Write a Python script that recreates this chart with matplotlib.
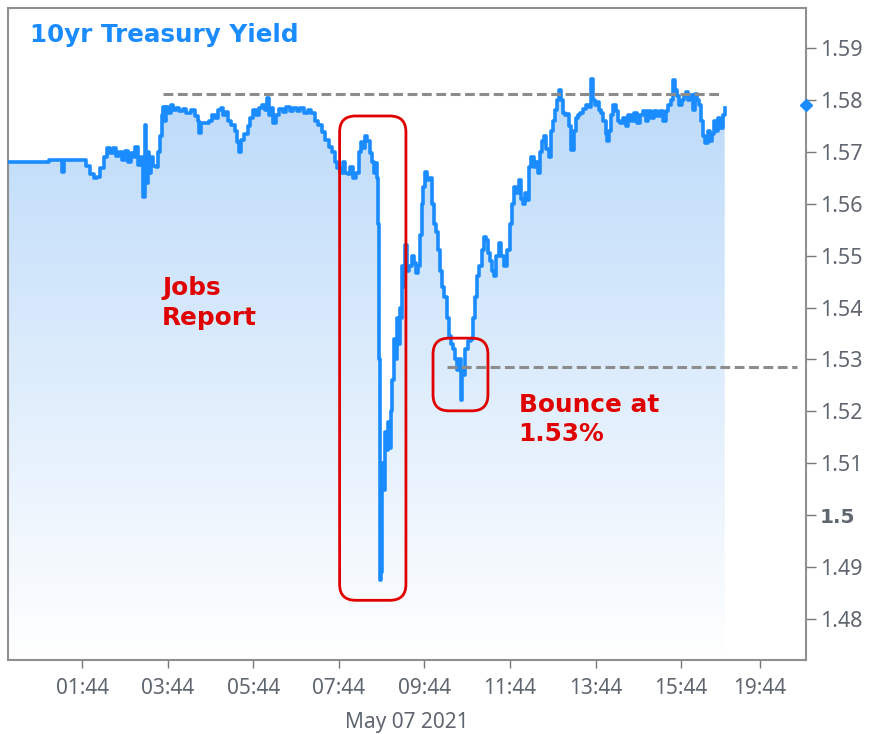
import numpy as np
import matplotlib
matplotlib.use("Agg")
import matplotlib.pyplot as plt
import matplotlib.patches as patches
import matplotlib.transforms as mtransforms
from matplotlib.colors import to_rgb

plt.rcParams['font.family'] = ['Noto Sans', 'DejaVu Sans']

# minutes after midnight (index-like time axis), yield in %
minutes = [0, 56, 57, 75, 76, 79, 105, 110, 115, 120, 125, 129, 134, 139, 143, 147, 152, 156, 160, 164,
           168, 172, 176, 178, 182, 186, 189, 190, 192, 194, 196, 198, 200, 204, 208, 211, 213, 216, 218, 220,
           222, 225, 228, 232, 236, 240, 246, 250, 256, 262, 266, 268, 270, 276, 282, 286, 290, 294, 298, 301,
           305, 309, 313, 318, 321, 324, 327, 331, 336, 340, 344, 348, 352, 356, 360, 363, 366, 369, 372, 376,
           380, 385, 390, 395, 400, 405, 410, 415, 420, 425, 430, 435, 440, 445, 450, 454, 458, 462, 466, 470,
           473, 477, 480, 484, 488, 492, 495, 498, 501, 504, 507, 510, 513, 516, 518, 519, 520, 521, 523, 524,
           526, 528, 530, 533, 535, 537, 539, 541, 543, 545, 547, 549, 551, 553, 555, 557, 560, 563, 566, 569,
           572, 575, 578, 580, 582, 585, 588, 591, 594, 597, 600, 603, 606, 609, 612, 615, 618, 621, 624, 627,
           630, 633, 635, 636, 638, 641, 645, 649, 652, 655, 658, 661, 664, 667, 670, 673, 676, 679, 682, 685,
           688, 692, 696, 700, 704, 707, 710, 713, 716, 719, 722, 725, 728, 731, 734, 737, 740, 743, 746, 749,
           752, 755, 758, 761, 764, 767, 770, 772, 775, 778, 781, 784, 787, 790, 793, 796, 799, 802, 806, 810,
           815, 818, 820, 823, 826, 829, 832, 835, 838, 840, 843, 846, 849, 852, 855, 858, 862, 866, 870, 874,
           878, 882, 886, 890, 894, 898, 902, 906, 910, 914, 918, 922, 926, 929, 932, 935, 938, 941, 945, 948,
           951, 954, 957, 960, 963, 966, 969, 972, 975, 978, 981, 984, 987, 990, 993, 996, 999, 1002, 1005]
yields = [1.5680, 1.5680, 1.5684, 1.5684, 1.5662, 1.5684, 1.5684, 1.5672, 1.5658, 1.5650, 1.5652, 1.5668,
          1.5690, 1.5708, 1.5698, 1.5708, 1.5692, 1.5700, 1.5685, 1.5702, 1.5680, 1.5698, 1.5690, 1.5710,
          1.5675, 1.5690, 1.5672, 1.5612, 1.5752, 1.5640, 1.5700, 1.5660, 1.5690, 1.5672, 1.5670, 1.5700,
          1.5730, 1.5770, 1.5786, 1.5760, 1.5786, 1.5775, 1.5790, 1.5780, 1.5785, 1.5778, 1.5782, 1.5775,
          1.5780, 1.5768, 1.5760, 1.5736, 1.5755, 1.5756, 1.5760, 1.5770, 1.5765, 1.5780, 1.5784, 1.5770,
          1.5776, 1.5760, 1.5752, 1.5740, 1.5718, 1.5700, 1.5722, 1.5735, 1.5750, 1.5765, 1.5780, 1.5770,
          1.5785, 1.5790, 1.5780, 1.5804, 1.5770, 1.5784, 1.5755, 1.5770, 1.5782, 1.5776, 1.5786, 1.5778,
          1.5784, 1.5778, 1.5784, 1.5775, 1.5780, 1.5775, 1.5760, 1.5752, 1.5738, 1.5722, 1.5710, 1.5700,
          1.5680, 1.5668, 1.5660, 1.5680, 1.5660, 1.5658, 1.5670, 1.5650, 1.5660, 1.5700, 1.5718, 1.5708,
          1.5730, 1.5720, 1.5698, 1.5680, 1.5660, 1.5678, 1.5650, 1.5560, 1.5300, 1.4875, 1.4890, 1.5100,
          1.5048, 1.5160, 1.5125, 1.5180, 1.5130, 1.5200, 1.5260, 1.5340, 1.5300, 1.5380, 1.5330, 1.5400,
          1.5380, 1.5480, 1.5440, 1.5520, 1.5470, 1.5480, 1.5500, 1.5486, 1.5466, 1.5480, 1.5540, 1.5600,
          1.5632, 1.5662, 1.5645, 1.5650, 1.5600, 1.5560, 1.5545, 1.5510, 1.5470, 1.5440, 1.5420, 1.5380,
          1.5345, 1.5330, 1.5320, 1.5300, 1.5280, 1.5300, 1.5222, 1.5280, 1.5270, 1.5320, 1.5335, 1.5340,
          1.5380, 1.5420, 1.5460, 1.5480, 1.5510, 1.5536, 1.5530, 1.5505, 1.5490, 1.5470, 1.5460, 1.5500,
          1.5524, 1.5500, 1.5480, 1.5510, 1.5560, 1.5600, 1.5632, 1.5620, 1.5646, 1.5610, 1.5600, 1.5620,
          1.5607, 1.5670, 1.5690, 1.5670, 1.5680, 1.5660, 1.5700, 1.5720, 1.5730, 1.5705, 1.5690, 1.5740,
          1.5760, 1.5780, 1.5800, 1.5819, 1.5800, 1.5775, 1.5770, 1.5772, 1.5750, 1.5703, 1.5740, 1.5765,
          1.5770, 1.5775, 1.5782, 1.5790, 1.5786, 1.5840, 1.5800, 1.5790, 1.5795, 1.5780, 1.5775, 1.5760,
          1.5735, 1.5720, 1.5740, 1.5770, 1.5790, 1.5778, 1.5760, 1.5756, 1.5765, 1.5750, 1.5770, 1.5760,
          1.5775, 1.5755, 1.5770, 1.5778, 1.5760, 1.5778, 1.5765, 1.5778, 1.5768, 1.5778, 1.5760, 1.5778,
          1.5790, 1.5800, 1.5838, 1.5820, 1.5808, 1.5790, 1.5800, 1.5808, 1.5815, 1.5800, 1.5810, 1.5780,
          1.5812, 1.5800, 1.5790, 1.5760, 1.5730, 1.5717, 1.5740, 1.5720, 1.5735, 1.5760, 1.5740, 1.5765,
          1.5745, 1.5770, 1.5785]

tick_minutes = [104, 224, 344, 464, 584, 704, 824, 944, 1054]
tick_labels = ['01:44', '03:44', '05:44', '07:44', '09:44', '11:44', '13:44', '15:44', '19:44']
y_ticks = [1.48, 1.49, 1.50, 1.51, 1.52, 1.53, 1.54, 1.55, 1.56, 1.57, 1.58, 1.59]
y_labels = ['1.48', '1.49', '1.5', '1.51', '1.52', '1.53', '1.54', '1.55', '1.56', '1.57', '1.58', '1.59']

resistance = 1.5811      # dashed line across the highs
support = 1.5285         # bounce level
last_value = 1.5790

blue = '#1a8cff'
red = '#e00000'
grey = '#5f6670'
bold_font = ['DejaVu Sans']

W, H = 869, 734
fig = plt.figure(figsize=(W / 100, H / 100), dpi=100)
ax = fig.add_axes([8 / W, 74 / H, 798 / W, 652 / H])
xmin, xmax = 0, 1119
ymin, ymax = 1.4721, 1.5977
ax.set_xlim(xmin, xmax)
ax.set_ylim(ymin, ymax)

x = np.array(minutes)
y = np.array(yields)

# gradient fill under the line
poly = ax.fill_between(x, y, ymin, step='post', facecolor='none', edgecolor='none')
top_c = np.array(to_rgb('#bad9f9'))
bot_c = np.array(to_rgb('#ffffff'))
t = np.linspace(0, 1, 256)[:, None]
grad = (top_c * (1 - t) + bot_c * t)[:, None, :]
img = ax.imshow(grad, extent=[xmin, xmax, ymin, 1.585], aspect='auto', origin='upper', zorder=1)
img.set_clip_path(poly.get_paths()[0], transform=ax.transData)

ax.step(x, y, where='post', color=blue, lw=2.6, zorder=3)

ax.hlines(resistance, 217, 1001, colors='#8c8c8c', linestyles=(0, (3.2, 1.5)), lw=2.2, zorder=4)
ax.hlines(support, 615, 1106, colors='#8c8c8c', linestyles=(0, (3.2, 1.5)), lw=2.2, zorder=4)

ax.plot([xmax], [last_value], marker='D', ms=6.5, color=blue, clip_on=False, zorder=6)

# rounded annotation boxes, drawn in pixel space so corners stay round
fig.canvas.draw()
def rbox(m0, m1, v0, v1):
    (px0, py0) = ax.transData.transform((m0, v0))
    (px1, py1) = ax.transData.transform((m1, v1))
    p = patches.FancyBboxPatch((px0, py0), px1 - px0, py1 - py0,
                               boxstyle='round,pad=0,rounding_size=16',
                               transform=mtransforms.IdentityTransform(),
                               fill=False, edgecolor=red, lw=2, clip_on=False, zorder=5)
    fig.add_artist(p)

rbox(465, 558, 1.4836, 1.5769)
rbox(596, 673, 1.5201, 1.5341)

ax.text(0.027, 0.958, '10yr Treasury Yield', transform=ax.transAxes, color=blue,
        fontsize=17.7, fontweight='bold', family=bold_font, va='center', ha='left')
ax.text(0.193, 0.5475, 'Jobs\nReport', transform=ax.transAxes, color=red,
        fontsize=17.8, fontweight='bold', family=bold_font, va='center', ha='left', linespacing=1.3)
ax.text(0.640, 0.369, 'Bounce at\n1.53%', transform=ax.transAxes, color=red,
        fontsize=17.8, fontweight='bold', family=bold_font, va='center', ha='left', linespacing=1.3)

ax.yaxis.tick_right()
ax.set_yticks(y_ticks)
ax.set_yticklabels(y_labels)
ax.tick_params(axis='y', length=7, width=1, color='#777777', labelcolor=grey,
               labelsize=15.5, pad=3)
for lab in ax.get_yticklabels():
    if lab.get_text() == '1.5':
        lab.set_fontweight('bold')
        lab.set_family(bold_font)
        lab.set_fontsize(14.5)

ax.set_xticks(tick_minutes)
ax.set_xticklabels(tick_labels)
ax.tick_params(axis='x', length=6, width=1, color='#777777', labelcolor=grey,
               labelsize=15, pad=7)
ax.set_xlabel('May 07 2021', color=grey, fontsize=15, labelpad=9)

for s in ax.spines.values():
    s.set_color('#8f8f8f')
    s.set_linewidth(1.5)

fig.savefig('out.png', dpi=100)
